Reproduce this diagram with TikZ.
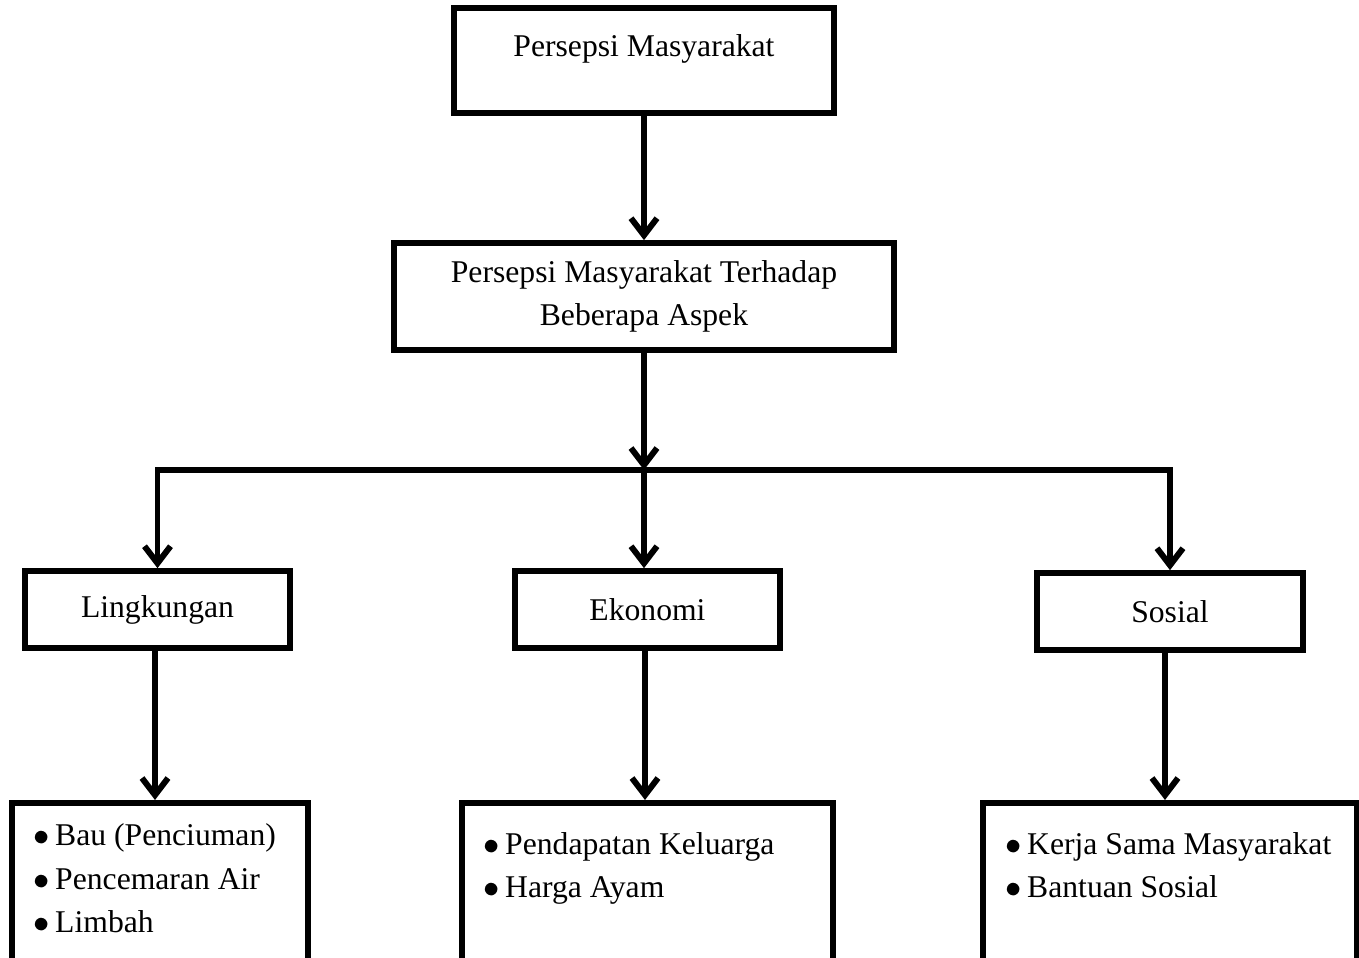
\documentclass[tikz,border=0pt]{standalone}
\usepackage{fontspec}
\setmainfont{Liberation Serif}
\usetikzlibrary{arrows.meta}

\begin{document}
\begin{tikzpicture}[x=0.01cm, y=-0.01cm,
        kotak/.style={draw=black, line width=1.6pt, inner sep=0pt, align=center, font=\fontsize{9}{12.2}\selectfont},
        teks/.style={inner sep=0pt, align=left, font=\fontsize{9}{12.5}\selectfont},
        panah/.style={line width=1.6pt, -{Straight Barb[length=0.17cm, width=0.26cm, line width=1.7pt]}}
    ]
        \useasboundingbox (0,0) rectangle (1359,958);
        \clip (0,0) rectangle (1359,958);

        % Kotak
        \node[kotak, minimum width=3.80cm, minimum height=1.05cm] (persepsi) at (644,60.5) {};
        \node[teks, anchor=base] (persepsi-teks) at (644,57) {Persepsi Masyarakat};
        \node[kotak, minimum width=5.00cm, minimum height=1.07cm] (aspek) at (644,296.5)
            {Persepsi Masyarakat Terhadap\\Beberapa Aspek};
        \node[kotak, minimum width=2.65cm, minimum height=0.77cm] (lingkungan) at (157.5,609.5) {Lingkungan};
        \node[kotak, minimum width=2.65cm, minimum height=0.77cm] (ekonomi) at (647.5,609.5) {Ekonomi};
        \node[kotak, minimum width=2.66cm, minimum height=0.77cm] (sosial) at (1170,611.5) {Sosial};

        % Kotak bawah
        \node[kotak, minimum width=2.96cm, minimum height=2.2cm, anchor=north] (lingkungan-isi) at (160,800) {};
        \node[kotak, minimum width=3.71cm, minimum height=2.2cm, anchor=north] (ekonomi-isi) at (647.5,800) {};
        \node[kotak, minimum width=3.74cm, minimum height=2.2cm, anchor=north] (sosial-isi) at (1170,800) {};
        \node[teks, anchor=base west] (lingkungan-teks) at (33,933)
            {$\bullet$\,Bau (Penciuman)\\$\bullet$\,Pencemaran Air\\$\bullet$\,Limbah};
        \node[teks, anchor=base west] (ekonomi-teks) at (483,898)
            {$\bullet$\,Pendapatan Keluarga\\$\bullet$\,Harga Ayam};
        \node[teks, anchor=base west] (sosial-teks) at (1005,898)
            {$\bullet$\,Kerja Sama Masyarakat\\$\bullet$\,Bantuan Sosial};

        % Panah
        \coordinate (cabang) at (644,470);
        \draw[panah] (persepsi) -- (aspek);
        \draw[panah] (aspek) -- (cabang);
        \draw[panah] (cabang) -| (lingkungan.north);
        \draw[panah] (cabang) -| (sosial.north);
        \draw[panah] (cabang) -- (cabang |- ekonomi.north);
        \draw[panah] (lingkungan.south -| 155,0) -- (lingkungan-isi.north -| 155,0);
        \draw[panah] (ekonomi.south -| 645,0) -- (ekonomi-isi.north -| 645,0);
        \draw[panah] (sosial.south -| 1165,0) -- (sosial-isi.north -| 1165,0);
    \end{tikzpicture}
\end{document}
